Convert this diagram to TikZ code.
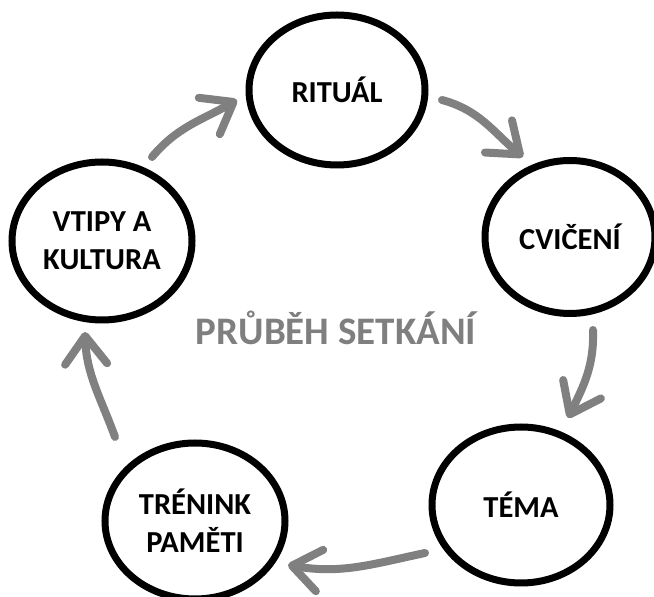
\documentclass[tikz,border=0pt]{standalone}
\usepackage{fontspec}
\setmainfont{Carlito}
\usetikzlibrary{shapes.geometric,arrows.meta}
\definecolor{arrowgray}{HTML}{808080}
\definecolor{titlegray}{HTML}{7F7F7F}
\tikzset{
  stage/.style={ellipse, draw=black, line width=7pt, fill=white, inner sep=0pt,
    align=center, font=\fontsize{30.5}{38}\selectfont\bfseries},
  flow/.style={draw=arrowgray, line width=8pt, line cap=round,
    -{Straight Barb[length=28pt,width=42pt,round]}},
}
\begin{document}
\begin{tikzpicture}[x=1pt,y=1pt]
\useasboundingbox (0,0) rectangle (654,597);
\node[stage, minimum width=176pt, minimum height=150pt] (rit) at (337,507) {RITUÁL};
\node[stage, minimum width=170pt, minimum height=153pt] (cvi) at (570,360) {CVIČENÍ};
\node[stage, minimum width=178pt, minimum height=156pt] (tema) at (521,92) {TÉMA};
\node[stage, minimum width=180pt, minimum height=156pt] (tren) at (195,76) {TRÉNINK\\PAMĚTI};
\node[stage, minimum width=180pt, minimum height=158pt] (vti) at (102,356) {VTIPY A\\KULTURA};
\node[font=\fontsize{39}{44}\selectfont\bfseries, text=titlegray] (title) at (336,269) {PRŮBĚH SETKÁNÍ};
\coordinate (a1s) at (442,497); \coordinate (a1e) at (523,440);
\coordinate (a2s) at (593,267); \coordinate (a2e) at (568,179);
\coordinate (a3s) at (425,44);  \coordinate (a3e) at (288,32);
\coordinate (a4s) at (115,160); \coordinate (a4e) at (85,265);
\coordinate (a5s) at (152,440); \coordinate (a5e) at (237,497);
\draw[flow] (a1s) to[out=-15,in=140] (a1e);
\draw[flow] (a2s) to[out=-88,in=64] (a2e);
\draw[flow] (a3s) to[out=192,in=-10] (a3e);
\draw[flow] (a4s) to[out=110,in=-88] (a4e);
\draw[flow] (a5s) to[out=50,in=210] (a5e);
\end{tikzpicture}
\end{document}
